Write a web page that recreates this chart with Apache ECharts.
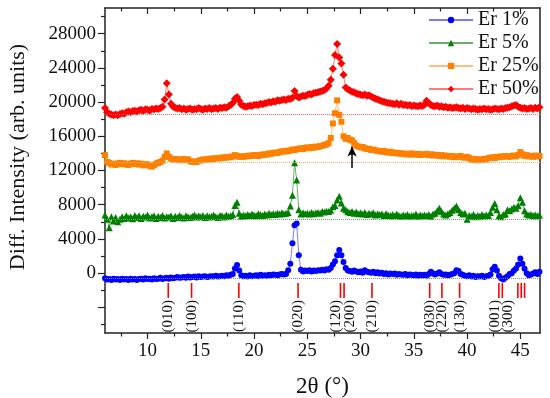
<!DOCTYPE html>
<html><head><meta charset="utf-8">
<script src="https://cdn.jsdelivr.net/npm/echarts@6/dist/echarts.min.js"></script>
<style>html,body{margin:0;padding:0;background:#fff}#c{width:550px;height:398px}</style>
</head><body><div id="c"></div>
<script>
const twoTheta = [
6,6.2,6.4,6.6,6.8, 7,7.2,7.4,7.6,7.8, 8,8.2,8.4,8.6,8.8, 9,9.2,9.4,9.6,9.8,
10,10.2,10.4,10.6,10.8, 11,11.2,11.4,11.6,11.8, 12,12.2,12.4,12.6,12.8, 13,13.2,13.4,13.6,13.8,
14,14.2,14.4,14.6,14.8, 15,15.2,15.4,15.6,15.8, 16,16.2,16.4,16.6,16.8, 17,17.2,17.4,17.6,17.8,
18,18.2,18.4,18.6,18.8, 19,19.2,19.4,19.6,19.8, 20,20.2,20.4,20.6,20.8, 21,21.2,21.4,21.6,21.8,
22,22.2,22.4,22.6,22.8, 23,23.2,23.4,23.6,23.8, 24,24.2,24.4,24.6,24.8, 25,25.2,25.4,25.6,25.8,
26,26.2,26.4,26.6,26.8, 27,27.2,27.4,27.6,27.8, 28,28.2,28.4,28.6,28.8, 29,29.2,29.4,29.6,29.8,
30,30.2,30.4,30.6,30.8, 31,31.2,31.4,31.6,31.8, 32,32.2,32.4,32.6,32.8, 33,33.2,33.4,33.6,33.8,
34,34.2,34.4,34.6,34.8, 35,35.2,35.4,35.6,35.8, 36,36.2,36.4,36.6,36.8, 37,37.2,37.4,37.6,37.8,
38,38.2,38.4,38.6,38.8, 39,39.2,39.4,39.6,39.8, 40,40.2,40.4,40.6,40.8, 41,41.2,41.4,41.6,41.8,
42,42.2,42.4,42.6,42.8, 43,43.2,43.4,43.6,43.8, 44,44.2,44.4,44.6,44.8, 45,45.2,45.4,45.6,45.8,
46,46.2,46.4,46.6,46.8
];
const er1 = [
-600,-750,-700,-800,-650, -750,-700,-800,-650,-750, -700,-800,-650,-750,-700, -800,-700,-650,-750,-600,
-700,-650,-750,-600,-700, -650,-550,-700,-600,-550, -650,-500,-600,-550,-450, -550,-500,-450,-550,-400,
-500,-450,-400,-500,-350, -450,-400,-350,-450,-400, -350,-400,-300,-400,-350, -300,-350,-250,-300,-200,
-100,550,950,300,-250, -350,-300,-400,-250,-350, -300,-250,-350,-200,-300, -250,-300,-200,-250,-150,
-200,-250,-150,-100,-150, -100,350,1100,3500,5600, 5800,2100,400,200,300, 250,350,200,300,250,
350,300,400,300,450, 400,600,1000,1400,2100, 2700,2100,1300,600,300, 250,150,300,200,100,
200,50,350,150,100, 50,150,0,100,-50, 50,-100,0,-150,-50, -100,-50,-200,-100,-150,
-200,-100,-250,-150,-200, -250,-150,-300,-200,-250, -200,-300,-100,150,-50, -150,-50,100,-100,-200,
-150,-250,-200,-100,0, 350,250,-100,-200,-300, -350,-250,-400,-300,-450, -350,-400,-300,-450,-350,
-300,-150,450,750,300, -300,-600,-750,-550,-350, -100,0,300,550,1000, 1700,1100,500,0,-250,
-150,-50,100,-100,150
];
const er5 = [
6800,6300,5300,6600,6100, 6500,6000,6300,6600,6400, 6700,6450,6600,6350,6750, 6500,6700,6400,6650,6550,
6800,6450,6600,6700,6400, 6650,6500,6750,6450,6600, 6550,6700,6400,6650,6500, 6750,6550,6450,6700,6600,
6500,6650,6800,6550,6700, 6600,6750,6500,6700,6550, 6650,6800,6600,6500,6750, 6700,6550,6800,6650,6700,
6850,7900,8300,7000,6650, 6800,6700,6850,6750,6900, 6800,6700,6950,6850,6750, 6900,6800,7000,6850,6950,
6850,7000,6900,7050,6950, 7000,7100,7850,9100,12900, 10900,7400,6900,7050,6950, 7000,6900,7100,6950,7050,
7100,7000,7200,7150,7250, 7200,7350,7750,7900,8550, 9000,8200,7600,7400,7200, 7100,7200,7000,7150,6950,
7050,6900,7100,6850,7000, 6900,7050,6800,6950,6850, 6900,6750,6950,6800,6700, 6850,6700,6900,6750,6650,
6800,6700,6850,6650,6750, 6700,6900,6650,6800,6700, 6800,6700,6850,6650,6900, 7000,7300,7600,7200,6900,
6800,6950,7100,7350,7600, 7850,7400,7100,6900,7000, 6300,6750,6650,6850,6600, 6750,6650,6850,6700,6800,
6750,7100,7700,8150,7400, 6700,6600,6850,6900,7400, 7300,7500,7700,7600,7900, 8800,8300,7300,6900,6800,
6850,6750,6800,6700,6800
];
const er25 = [
13800,13000,12900,12700,12800, 12650,12800,12900,12750,12850, 12700,12650,12800,12900,12750, 12850,12700,12800,12600,12750,
12700,12550,12450,12650,12800, 12900,13000,13150,13600,14000, 13600,13400,13300,13350,13250, 13300,13200,13350,13250,13300,
13100,13000,13050,13000,13150, 13200,13300,13250,13350,13300, 13400,13350,13450,13400,13500, 13450,13550,13500,13600,13550,
13650,13800,13700,13600,13650, 13600,13700,13650,13750,13700, 13800,13750,13700,13850,13800, 13900,13850,14000,13950,14050,
14100,14050,14150,14250,14200, 14300,14250,14350,14450,14400, 14500,14550,14600,14500,14650, 14700,14600,14750,14650,14800,
14750,14850,14900,15000,15050, 15200,15800,17500,18700,20200, 18500,17700,16000,15700,15800, 15600,15500,15200,14900,14800,
14700,14750,14600,14500,14550, 14400,14450,14350,14300,14250, 14200,14300,14150,14100,14200, 14050,14100,14000,14050,13950,
14000,13900,13950,13850,14000, 13900,13850,13950,13800,13900, 13850,13950,13800,13900,13750, 13850,13800,13700,13800,13650,
13750,13700,13600,13700,13550, 13650,13600,13700,13550,13500, 13600,13450,13300,13250,13350, 13200,13300,13250,13350,13300,
13450,13500,13550,13450,13600, 13550,13650,13600,13700,13650, 13600,13700,13750,13650,13800, 14150,13900,13700,13800,13650,
13700,13600,13750,13650,13700
];
const er50 = [
19300,18800,18650,18550,18450, 18550,18450,18600,18700,18650, 18800,18900,18800,18950,19000, 18900,19050,19100,18950,19150,
19100,19000,19200,19150,19250, 19200,19300,19450,20300,22200, 20900,19800,19450,19350,19250, 19300,19150,19250,19100,19200,
19250,19100,19200,19150,19300, 19200,19100,19250,19200,19300, 19150,19250,19300,19200,19350, 19300,19400,19350,19500,19650,
19900,20400,20600,20150,19700, 19550,19450,19500,19600,19550, 19650,19700,19650,19800,19750, 19850,19900,20000,19950,20100,
20050,20200,20150,20250,20300, 20250,20400,20350,20500,21300, 20700,20550,20650,20750,20700, 20850,20950,20900,21050,21100,
21150,21250,21300,21400,21600, 21900,22600,23900,25500,26800, 25200,24500,23200,21700,21500, 21350,21200,21150,21000,20950,
20850,20800,20900,20750,20800, 20650,20500,20400,20300,20200, 20100,20050,19950,19900,19850, 19800,19750,19850,19700,19800,
19650,19700,19600,19650,19550, 19600,19550,19500,19600,19550, 19700,20150,19900,19650,19550, 19500,19600,19450,19500,19400,
19450,19350,19400,19300,19350, 19400,19300,19250,19350,19200, 19300,19250,19150,19250,19200, 19100,19200,19150,19250,19150,
19200,19100,19150,19250,19200, 19150,19250,19200,19300,19350, 19400,19500,19600,19650,19450, 19350,19250,19300,19200,19250,
19300,19200,19350,19250,19400
];
const seriesNames = ['Er 1%', 'Er 5%', 'Er 25%', 'Er 50%'];
const baselines = [-580, 6250, 12950, 18600];
const reflPos = [11.94, 14.13, 18.57, 24.13, 28.11, 28.45, 31.07, 36.49, 37.64, 39.30, 42.99, 43.31, 44.77, 45.09, 45.40];
const reflLabels = ['(010)', '(100)', '(110)', '(020)', '(120)', '(200)', '(210)', '(030)', '(220)', '(130)', '(001)', '(300)', '', '', ''];
const reflSpan = [-1150, -2900];
const reflLabelTop = -3150;
const arrowX = 29.2;
const arrowY = [12300, 14800];
const xMajor = [10, 15, 20, 25, 30, 35, 40, 45];
const xMinor = [7.5, 12.5, 17.5, 22.5, 27.5, 32.5, 37.5, 42.5];
const yLabels = [0, 4000, 8000, 12000, 16000, 20000, 24000, 28000];
const yMajor = [-4000, 0, 4000, 8000, 12000, 16000, 20000, 24000, 28000];
const yMinor = [-6000, -2000, 2000, 6000, 10000, 14000, 18000, 22000, 26000, 30000];

const FONT = '"Liberation Serif", "Times New Roman", serif';
const colors = ['#0000ff', '#008000', '#ff8000', '#ff0000'];
const lineColors = ['#7a7aff', '#6aae6a', '#ffbe80', '#ff7a7a'];
const dotColors = ['#8080ff', '#60b060', '#ffb060', '#ff6060'];
const symbols = ['circle', 'triangle', 'rect', 'diamond'];
const symSizes = [6, 7, 6, 8];
const XMIN = 6, XMAX = 46.85, YMIN = -7000, YMAX = 31000;

const chart = echarts.init(document.getElementById('c'), null, {renderer: 'canvas'});
const dataSets = [er1, er5, er25, er50];

const axisLineStyle = {color: '#222', width: 1.5};
const tickStyle = {color: '#222', width: 1.2};
const plain = v => String(v);

const series = dataSets.map((arr, k) => ({
  name: seriesNames[k], type: 'line', z: 3,
  data: twoTheta.map((x, i) => [x, arr[i]]),
  symbol: symbols[k], symbolSize: symSizes[k], showAllSymbol: true,
  itemStyle: {color: colors[k]},
  lineStyle: {color: lineColors[k], width: 1},
  animation: false
}));

series.push({
  type: 'line', data: [], z: 1, silent: true, animation: false,
  markLine: {
    silent: true, symbol: ['none', 'none'], label: {show: false}, animation: false,
    data: baselines.map((v, k) => ({yAxis: v, lineStyle: {color: dotColors[k], type: 'dotted', width: 1}}))
  }
});

series.push({
  type: 'line', data: [], z: 5, silent: true, animation: false,
  markLine: {
    silent: true, symbol: ['none', 'arrow'], symbolSize: [7, 10], label: {show: false}, animation: false,
    lineStyle: {color: '#000', type: 'solid', width: 1.5},
    data: [[{coord: [arrowX, arrowY[0]]}, {coord: [arrowX, arrowY[1]]}]]
  }
});

series.push({
  type: 'custom', z: 4, silent: true, animation: false, clip: false,
  data: reflPos.map(p => [p, 0]),
  encode: {x: 0, y: 1},
  renderItem: function (params, api) {
    const i = params.dataIndex;
    const x = api.value(0);
    const a = api.coord([x, reflSpan[0]]);
    const b = api.coord([x, reflSpan[1]]);
    const t = api.coord([x, reflLabelTop]);
    let dx = 0;
    if (i + 1 < reflPos.length && api.coord([reflPos[i + 1], 0])[0] - a[0] < 8) dx = -4;
    else if (i > 0 && a[0] - api.coord([reflPos[i - 1], 0])[0] < 8) dx = 6;
    const children = [{
      type: 'line', shape: {x1: a[0], y1: a[1], x2: b[0], y2: b[1]},
      style: {stroke: '#ff0000', lineWidth: 1.6}
    }];
    if (reflLabels[i]) {
      children.push({
        type: 'text', x: t[0] + dx, y: t[1], rotation: Math.PI / 2,
        style: {text: reflLabels[i], fill: '#111', font: '15px ' + FONT, align: 'right', verticalAlign: 'middle'}
      });
    }
    return {type: 'group', children: children};
  }
});

const option = {
  backgroundColor: '#fff',
  animation: false,
  grid: {left: 105, right: 10, top: 8, bottom: 65, containLabel: false, outerBoundsMode: 'none'},
  legend: {
    orient: 'vertical', left: 428, top: 10, itemWidth: 44, itemHeight: 8, itemGap: 3, padding: 0,
    textStyle: {fontFamily: FONT, fontSize: 20, color: '#111'},
    data: seriesNames
  },
  xAxis: [
    {type: 'value', position: 'bottom', min: XMIN, max: XMAX,
     name: '2θ (°)', nameLocation: 'middle', nameGap: 42,
     nameTextStyle: {fontFamily: FONT, fontSize: 23, color: '#111'},
     axisLine: {show: true, onZero: false, lineStyle: axisLineStyle},
     axisTick: {show: true, customValues: xMajor, length: 6, lineStyle: tickStyle},
     axisLabel: {customValues: xMajor, formatter: plain, margin: 9, fontFamily: FONT, fontSize: 19, color: '#111'},
     splitLine: {show: false}},
    {type: 'value', position: 'bottom', min: XMIN, max: XMAX,
     axisLine: {show: false, onZero: false}, axisLabel: {show: false}, splitLine: {show: false},
     axisTick: {show: true, customValues: xMinor, length: 3.5, lineStyle: tickStyle}},
    {type: 'value', position: 'top', min: XMIN, max: XMAX,
     axisLine: {show: true, onZero: false, lineStyle: axisLineStyle}, axisLabel: {show: false}, splitLine: {show: false},
     axisTick: {show: true, inside: true, customValues: xMajor, length: 6, lineStyle: tickStyle}},
    {type: 'value', position: 'top', min: XMIN, max: XMAX,
     axisLine: {show: false, onZero: false}, axisLabel: {show: false}, splitLine: {show: false},
     axisTick: {show: true, inside: true, customValues: xMinor, length: 3.5, lineStyle: tickStyle}}
  ],
  yAxis: [
    {type: 'value', position: 'left', min: YMIN, max: YMAX,
     name: 'Diff. Intensity (arb. units)', nameLocation: 'middle', nameGap: 76,
     nameTextStyle: {fontFamily: FONT, fontSize: 22, color: '#111', padding: [0, 0, 0, 27]},
     axisLine: {show: true, onZero: false, lineStyle: axisLineStyle},
     axisTick: {show: true, customValues: yMajor, length: 7, lineStyle: tickStyle},
     axisLabel: {customValues: yLabels, formatter: plain, margin: 9, fontFamily: FONT, fontSize: 19, color: '#111'},
     splitLine: {show: false}},
    {type: 'value', position: 'left', min: YMIN, max: YMAX,
     axisLine: {show: false, onZero: false}, axisLabel: {show: false}, splitLine: {show: false},
     axisTick: {show: true, customValues: yMinor, length: 4, lineStyle: tickStyle}},
    {type: 'value', position: 'right', min: YMIN, max: YMAX,
     axisLine: {show: true, onZero: false, lineStyle: axisLineStyle}, axisLabel: {show: false},
     axisTick: {show: false}, splitLine: {show: false}}
  ],
  series: series
};
chart.setOption(option);
</script>
</body></html>
